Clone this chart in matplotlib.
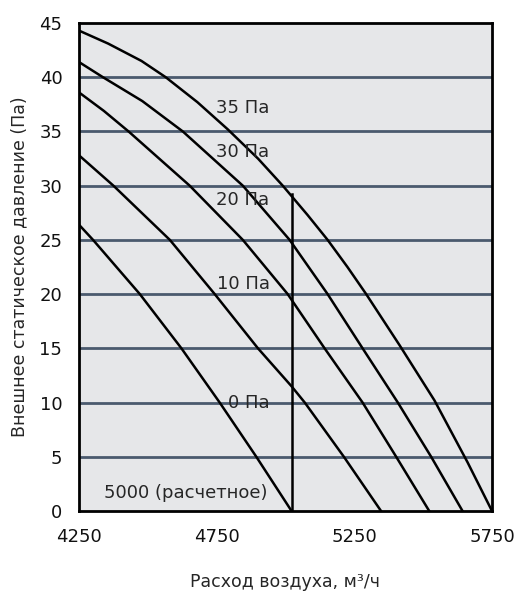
import matplotlib
matplotlib.use("Agg")
import matplotlib.pyplot as plt

plt.rcParams['font.family'] = ['DejaVu Sans']

# Data (flow m3/h, static pressure Pa)
x_35 = [4250, 4356, 4477, 4565, 4680, 4790, 4900, 4990, 5080, 5153, 5225, 5293, 5414, 5541, 5661, 5750]
y_35 = [44.3, 43.1, 41.5, 40, 37.7, 35.2, 32.5, 30, 27.3, 25, 22.5, 20, 15.3, 10.2, 4.5, 0]
x_30 = [4250, 4337, 4480, 4627, 4845, 5015, 5153, 5280, 5408, 5529, 5643]
y_30 = [41.4, 40, 37.8, 35, 30, 25, 20, 15, 10, 5, 0]
x_20 = [4250, 4340, 4430, 4652, 4845, 5008, 5142, 5280, 5402, 5522]
y_20 = [38.6, 36.9, 35, 30, 25, 20, 15, 10, 5, 0]
x_10 = [4250, 4375, 4580, 4743, 4900, 5022, 5070, 5212, 5347]
y_10 = [32.8, 30, 25, 20, 15, 11.5, 10, 5, 0]
x_0 = [4250, 4301, 4471, 4622, 4761, 4894, 5022]
y_0 = [26.4, 25, 20, 15, 10, 5, 0]

curve_labels = ["35 Па", "30 Па", "20 Па", "10 Па", "0 Па"]
label_y = [37.2, 33.1, 28.7, 20.9, 10.0]

design_flow = 5022
design_top = 29.2
design_label = "5000 (расчетное)"

x_ticks = [4250, 4750, 5250, 5750]
y_ticks = [0, 5, 10, 15, 20, 25, 30, 35, 40, 45]

fig = plt.figure(figsize=(5.20, 5.97), dpi=100)
ax = fig.add_axes([79/520, 1 - 511/597, (492-79)/520, (511-23)/597])
ax.set_facecolor('#e6e7e9')
ax.set_xlim(4250, 5750)
ax.set_ylim(0, 45)

for yv in y_ticks[1:-1]:
    ax.axhline(yv, color='#4b5a6e', lw=2.0, zorder=1)

for xs, ys in [(x_35, y_35), (x_30, y_30), (x_20, y_20), (x_10, y_10), (x_0, y_0)]:
    ax.plot(xs, ys, color='black', lw=1.8, zorder=3, solid_joinstyle='round')

ax.plot([design_flow, design_flow], [0, design_top], color='black', lw=1.8, zorder=3)

for lab, yv in zip(curve_labels, label_y):
    ax.text(4942, yv, lab, ha='right', va='center', fontsize=13, color='#262626', zorder=4)

ax.text(4935, 1.65, design_label, ha='right', va='center', fontsize=13, color='#262626', zorder=4)

ax.set_xticks(x_ticks)
ax.set_yticks(y_ticks)
ax.tick_params(length=0, labelsize=13, pad=12, labelcolor='#111111')
for s in ax.spines.values():
    s.set_linewidth(2)
    s.set_color('black')
    s.set_zorder(5)

ax.set_xlabel("Расход воздуха, м³/ч", fontsize=12.5, color='#262626', labelpad=20)
ax.set_ylabel("Внешнее статическое давление (Па)", fontsize=12.5, color='#262626', labelpad=8)

fig.savefig("out.png", dpi=100)
